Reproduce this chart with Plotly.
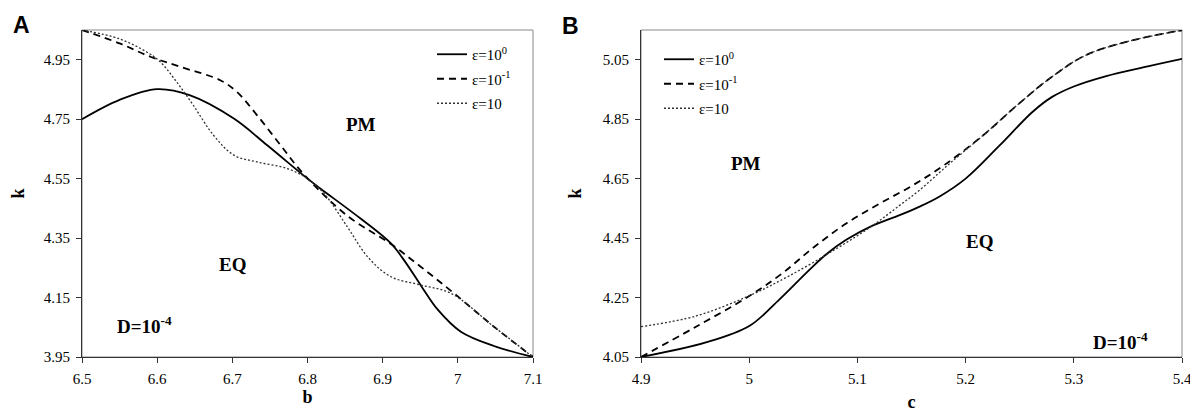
import plotly.graph_objects as go
from plotly.subplots import make_subplots

# Panel A: k vs b
a_solid_b = [6.5, 6.55, 6.6, 6.644, 6.702, 6.746, 6.80, 6.817, 6.871, 6.911, 6.93, 6.951, 6.973, 7.004, 7.048, 7.1]
a_solid_k = [4.75, 4.815, 4.851, 4.83, 4.752, 4.663, 4.55, 4.517, 4.415, 4.332, 4.27, 4.19, 4.11, 4.035, 3.987, 3.95]

a_dash_b = [6.5, 6.55, 6.591, 6.631, 6.684, 6.706, 6.733, 6.764, 6.795, 6.853, 6.911, 6.951, 6.995, 7.048, 7.1]
a_dash_k = [5.05, 5.005, 4.96, 4.926, 4.881, 4.842, 4.763, 4.663, 4.565, 4.425, 4.33, 4.253, 4.164, 4.052, 3.95]

a_dot_b = [6.5, 6.55, 6.586, 6.604, 6.626, 6.648, 6.675, 6.702, 6.733, 6.773, 6.80, 6.822, 6.853, 6.880, 6.911, 6.951, 6.991, 7.048, 7.1]
a_dot_k = [5.05, 5.02, 4.976, 4.943, 4.875, 4.797, 4.696, 4.629, 4.606, 4.584, 4.55, 4.50, 4.388, 4.287, 4.22, 4.192, 4.164, 4.052, 3.95]

# Panel B: k vs c
b_solid_c = [4.9, 4.96, 5.0, 5.028, 5.053, 5.071, 5.09, 5.114, 5.139, 5.157, 5.176, 5.2, 5.231, 5.262, 5.28, 5.3, 5.33, 5.365, 5.4]
b_solid_k = [4.05, 4.099, 4.154, 4.244, 4.334, 4.395, 4.445, 4.492, 4.527, 4.555, 4.59, 4.65, 4.76, 4.875, 4.925, 4.96, 4.995, 5.025, 5.053]

b_dash_c = [4.9, 4.95, 5.0, 5.03, 5.06, 5.09, 5.12, 5.15, 5.18, 5.216, 5.247, 5.277, 5.311, 5.354, 5.4]
b_dash_k = [4.05, 4.15, 4.255, 4.33, 4.42, 4.5, 4.565, 4.625, 4.695, 4.795, 4.895, 4.985, 5.065, 5.115, 5.149]

b_dot_c = [4.9, 4.951, 5.0, 5.037, 5.08, 5.114, 5.139, 5.157, 5.185, 5.216, 5.247, 5.277, 5.311, 5.354, 5.4]
b_dot_k = [4.152, 4.188, 4.256, 4.323, 4.413, 4.492, 4.56, 4.61, 4.70, 4.795, 4.895, 4.985, 5.065, 5.115, 5.149]

names = ["ε=10<sup>0</sup>", "ε=10<sup>-1</sup>", "ε=10"]
a_ticks_x = [6.5, 6.6, 6.7, 6.8, 6.9, 7.0, 7.1]
a_ticks_y = [3.95, 4.15, 4.35, 4.55, 4.75, 4.95]
b_ticks_x = [4.9, 5.0, 5.1, 5.2, 5.3, 5.4]
b_ticks_y = [4.05, 4.25, 4.45, 4.65, 4.85, 5.05]

SERIF = "Liberation Serif, Times New Roman, serif"
SANS = "Liberation Sans, Arial, sans-serif"
styles = [dict(color="black", width=1.8, dash="solid"),
          dict(color="black", width=1.8, dash="7px,5px"),
          dict(color="#333333", width=1.3, dash="2px,2px")]

# page body has an 8px margin: work in reference-window pixels and convert
OFF = 8
W, H = 1198 - OFF, 412 - OFF
TOP, BOT = 30, 357          # plot area top / bottom in reference pixels
M_T = TOP - OFF
M_B = H - (BOT - OFF)


def px(x_ref):
    return (x_ref - OFF) / W


def py(y_ref):
    return (BOT - y_ref) / (BOT - TOP)


fig = make_subplots(rows=1, cols=2)

a_data = [(a_solid_b, a_solid_k), (a_dash_b, a_dash_k), (a_dot_b, a_dot_k)]
b_data = [(b_solid_c, b_solid_k), (b_dash_c, b_dash_k), (b_dot_c, b_dot_k)]

for i, (x, y) in enumerate(a_data):
    fig.add_trace(go.Scatter(x=x, y=y, mode="lines", name=names[i],
                             line=dict(shape="spline", smoothing=1.0, **styles[i]),
                             legend="legend", legendgroup=f"a{i}"), row=1, col=1)
for i, (x, y) in enumerate(b_data):
    fig.add_trace(go.Scatter(x=x, y=y, mode="lines", name=names[i],
                             line=dict(shape="spline", smoothing=1.0, **styles[i]),
                             legend="legend2", legendgroup=f"b{i}"), row=1, col=2)

axis_common = dict(showline=True, linecolor="#333333", linewidth=1, ticks="outside",
                   ticklen=5, tickcolor="#333333", showgrid=False, zeroline=False,
                   automargin=False, ticklabelstandoff=3,
                   tickfont=dict(family=SERIF, size=15, color="black"))
title_font = dict(family=SERIF, size=18, color="black")

fig.update_xaxes(domain=[px(82), px(533)], range=[6.5, 7.1], tickvals=a_ticks_x,
                 ticktext=["6.5", "6.6", "6.7", "6.8", "6.9", "7", "7.1"],
                 title=dict(text="<b>b</b>", font=title_font, standoff=2),
                 **axis_common, row=1, col=1)
fig.update_yaxes(range=[3.95, 5.05], tickvals=a_ticks_y,
                 ticktext=[f"{v:.2f}" for v in a_ticks_y],
                 title=dict(text="<b>k</b>", font=title_font, standoff=20),
                 **axis_common, row=1, col=1)
fig.update_xaxes(domain=[px(641), px(1182)], range=[4.9, 5.4], tickvals=b_ticks_x,
                 ticktext=["4.9", "5", "5.1", "5.2", "5.3", "5.4"],
                 title=dict(text="<b>c</b>", font=title_font, standoff=9),
                 **axis_common, row=1, col=2)
fig.update_yaxes(range=[4.05, 5.15], tickvals=b_ticks_y,
                 ticktext=[f"{v:.2f}" for v in b_ticks_y],
                 title=dict(text="<b>k</b>", font=title_font, standoff=16),
                 **axis_common, row=1, col=2)

# panel frames (top/right borders in gray)
for xr, yr in [("x domain", "y domain"), ("x2 domain", "y2 domain")]:
    fig.add_shape(type="rect", xref=xr, yref=yr, x0=0, x1=1, y0=0, y1=1,
                  line=dict(color="#888888", width=1), layer="below")

ann_font = dict(family=SERIF, size=19, color="black")
anns = [
    dict(x=6.871, y=4.733, xref="x", yref="y", text="<b>PM</b>"),
    dict(x=6.70, y=4.26, xref="x", yref="y", text="<b>EQ</b>"),
    dict(x=6.583, y=4.058, xref="x", yref="y", text="<b>D=10<sup>-4</sup></b>"),
    dict(x=4.997, y=4.70, xref="x2", yref="y2", text="<b>PM</b>"),
    dict(x=5.213, y=4.44, xref="x2", yref="y2", text="<b>EQ</b>"),
    dict(x=5.343, y=4.103, xref="x2", yref="y2", text="<b>D=10<sup>-4</sup></b>"),
]
for a in anns:
    fig.add_annotation(showarrow=False, font=ann_font, **a)

fig.add_annotation(x=px(11), y=py(25), xref="paper", yref="paper", text="<b>A</b>",
                   showarrow=False, xanchor="left", yanchor="middle",
                   font=dict(family=SANS, size=23, color="black"))
fig.add_annotation(x=px(560), y=py(26), xref="paper", yref="paper", text="<b>B</b>",
                   showarrow=False, xanchor="left", yanchor="middle",
                   font=dict(family=SANS, size=23, color="black"))

legend_common = dict(bgcolor="rgba(0,0,0,0)", font=dict(family=SERIF, size=15, color="black"),
                     xanchor="left", yanchor="top", tracegroupgap=2, itemwidth=30,
                     traceorder="grouped")
fig.update_layout(
    width=W, height=H,
    margin=dict(l=0, r=0, t=M_T, b=M_B),
    plot_bgcolor="white", paper_bgcolor="white",
    legend=dict(x=px(432), y=py(38), **legend_common),
    legend2=dict(x=px(659), y=py(43), **legend_common),
)

fig.write_html("out.html")
